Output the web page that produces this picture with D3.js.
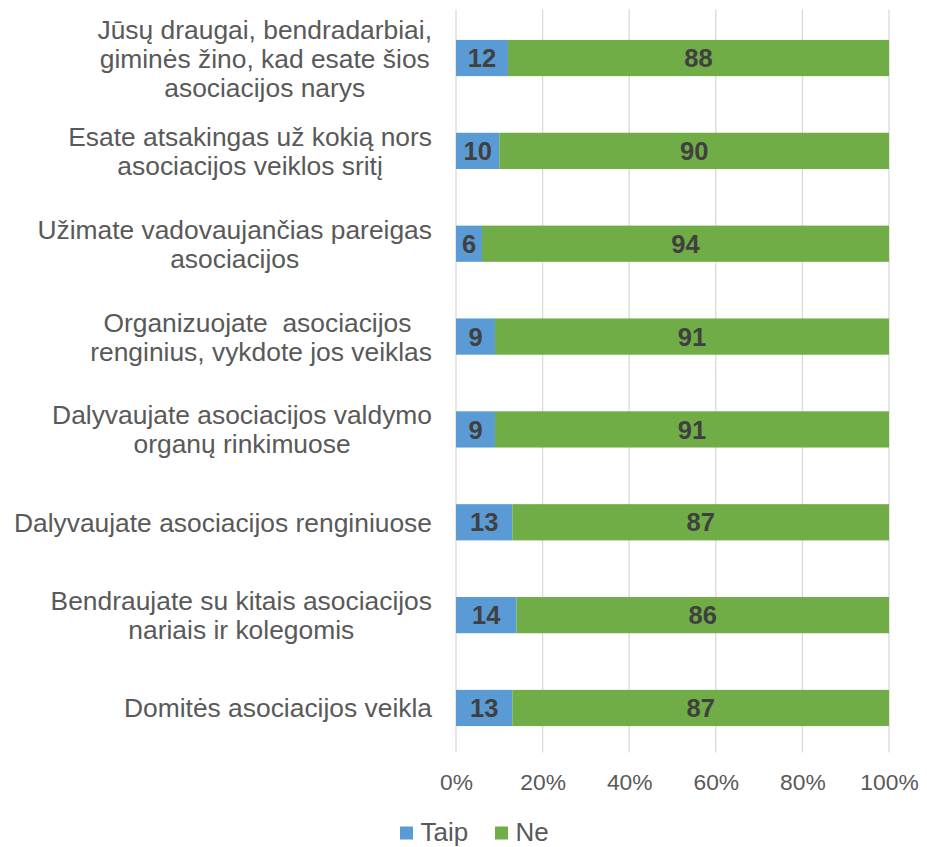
<!DOCTYPE html>
<html>
<head>
<meta charset="utf-8">
<script src="https://cdn.jsdelivr.net/npm/d3@7"></script>
<style>
  body { margin: 0; background: #fff; }
  svg { display: block; font-family: "Liberation Sans", Arial, sans-serif; }
</style>
</head>
<body>
<svg id="chart" width="927" height="847"></svg>
<script>
// Survey items, each split into its display lines
const categories = [
  ["Jūsų draugai, bendradarbiai,", "giminės žino, kad esate šios", "asociacijos narys"],
  ["Esate atsakingas už kokią nors", "asociacijos veiklos sritį"],
  ["Užimate vadovaujančias pareigas", "asociacijos"],
  ["Organizuojate  asociacijos ", "renginius, vykdote jos veiklas"],
  ["Dalyvaujate asociacijos valdymo", "organų rinkimuose"],
  ["Dalyvaujate asociacijos renginiuose"],
  ["Bendraujate su kitais asociacijos", "nariais ir kolegomis"],
  ["Domitės asociacijos veikla"]
];
const taip = [12, 10, 6, 9, 9, 13, 14, 13];
const ne   = [88, 90, 94, 91, 91, 87, 86, 87];
const seriesNames = ["Taip", "Ne"];
const seriesColors = ["#5B9BD5", "#70AD47"];
const tickValues = [0, 0.2, 0.4, 0.6, 0.8, 1];

const svg = d3.select("#chart");
const plotLeft = 456, plotRight = 889, plotTop = 11.6, plotBottom = 754.4;

const rows = categories.map((c, i) => ({ idx: i, lines: c, Taip: taip[i], Ne: ne[i] }));
const stack = d3.stack().keys(seriesNames).offset(d3.stackOffsetExpand);
const layers = stack(rows);

const x = d3.scaleLinear().domain([0, 1]).range([plotLeft, plotRight]);
const y = d3.scaleBand().domain(rows.map(d => d.idx)).range([plotTop, plotBottom])
  .paddingInner(0.61).paddingOuter(0.305);

// vertical gridlines
svg.append("g").selectAll("line").data(tickValues).join("line")
  .attr("x1", d => x(d)).attr("x2", d => x(d))
  .attr("y1", plotTop - 2).attr("y2", plotBottom - 2)
  .attr("stroke", "#D9D9D9").attr("stroke-width", 1.3);

// x axis tick labels
const xAxis = d3.axisBottom(x).tickValues(tickValues).tickFormat(d3.format(".0%")).tickSize(0).tickPadding(0);
const gx = svg.append("g").attr("transform", `translate(0,790)`).call(xAxis);
gx.select(".domain").remove();
gx.selectAll("text").attr("font-size", "22.8px").attr("fill", "#595959")
  .attr("font-family", "'Liberation Sans', Arial, sans-serif").attr("dy", "0");

// bars
const bw = y.bandwidth();
layers.forEach((layer, li) => {
  svg.append("g").selectAll("rect").data(layer).join("rect")
    .attr("x", d => x(d[0]))
    .attr("y", d => y(d.data.idx))
    .attr("width", d => x(d[1]) - x(d[0]))
    .attr("height", bw)
    .attr("fill", seriesColors[li]);
  svg.append("g").selectAll("text").data(layer).join("text")
    .attr("x", d => (x(d[0]) + x(d[1])) / 2)
    .attr("y", d => y(d.data.idx) + bw / 2)
    .attr("dy", "0.36em")
    .attr("text-anchor", "middle")
    .attr("font-size", "25.5px").attr("font-weight", "bold").attr("fill", "#404040")
    .text(d => d.data[layer.key]);
});

// category labels: lines centred on one another, block right-aligned to the axis
const lineH = 29;
const labelG = svg.append("g");
rows.forEach(r => {
  const cy = y(r.idx) + bw / 2;
  const n = r.lines.length;
  const g = labelG.append("g");
  const texts = r.lines.map((ln, k) => g.append("text")
    .attr("y", cy + (k - (n - 1) / 2) * lineH)
    .attr("dy", "0.36em")
    .attr("text-anchor", "middle")
    .attr("font-size", "26.4px").attr("fill", "#595959")
    .style("white-space", "pre")
    .text(ln));
  const widths = texts.map(t => t.node().getComputedTextLength());
  const maxW = d3.max(widths);
  texts.forEach(t => t.attr("x", 432 - maxW / 2));
});

// legend
const legend = svg.append("g");
const legX = [400, 495];
seriesNames.forEach((s, i) => {
  legend.append("rect").attr("x", legX[i]).attr("y", 826.5).attr("width", 13).attr("height", 13).attr("fill", seriesColors[i]);
  legend.append("text").attr("x", legX[i] + 20.5).attr("y", 841)
    .attr("font-size", "26px").attr("fill", "#595959").text(s);
});
</script>
</body>
</html>
